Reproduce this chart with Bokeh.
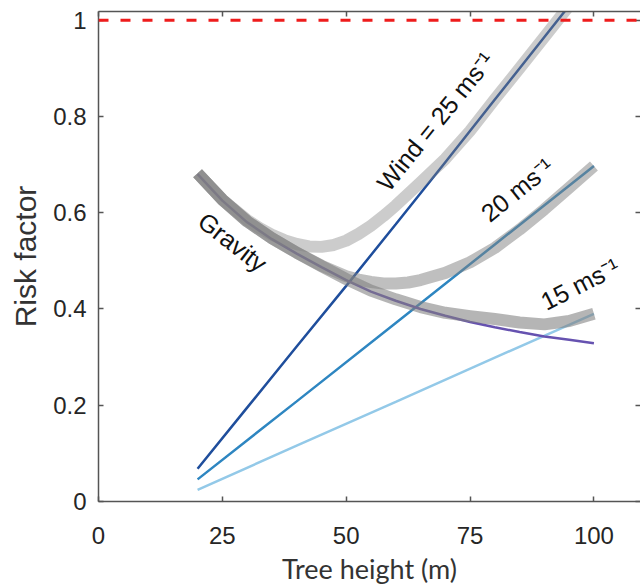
import math
from bokeh.plotting import figure
from bokeh.models import Range1d, LinearAxis, FixedTicker, Span, ColumnDataSource
from bokeh.core.properties import value
from bokeh.embed import file_html
from bokeh.resources import INLINE

# ---- data ----
heights = [20, 25, 30, 35, 40, 45, 50, 55, 60, 65, 70, 75, 80, 85, 90, 95, 100]
gravity = [0.68, 0.625, 0.58, 0.545, 0.515, 0.487, 0.46, 0.436, 0.417, 0.40, 0.386, 0.373,
           0.362, 0.352, 0.343, 0.336, 0.329]

wind25_x = [20, 30, 40, 50, 60, 70, 80, 90, 100]
wind25 = [0.068, 0.195, 0.322, 0.448, 0.576, 0.705, 0.835, 0.965, 1.095]
wind20_x = [20, 40, 60, 80, 100]
wind20 = [0.046, 0.208, 0.371, 0.534, 0.697]
wind15_x = [20, 40, 60, 80, 100]
wind15 = [0.024, 0.116, 0.207, 0.299, 0.39]

comb15 = [0.682, 0.627, 0.582, 0.547, 0.517, 0.489, 0.462, 0.438, 0.42, 0.404, 0.392, 0.385,
          0.379, 0.372, 0.368, 0.375, 0.39]
comb20_x = [20, 25, 30, 35, 40, 45, 50, 52.5, 55, 57.5, 60, 62.5, 65, 70, 75, 80, 85, 90, 95, 100]
comb20 = [0.682, 0.627, 0.582, 0.547, 0.517, 0.49, 0.468, 0.461, 0.456, 0.453, 0.453, 0.455,
          0.46, 0.475, 0.497, 0.527, 0.565, 0.607, 0.652, 0.697]
comb25_x = [20, 25, 30, 32.5, 35, 37.5, 40, 42.5, 45, 47.5, 50, 52.5, 55, 57.5, 60, 65, 70,
            75, 80, 85, 90, 95, 98]
comb25 = [0.682, 0.627, 0.585, 0.568, 0.554, 0.543, 0.535, 0.53, 0.529, 0.533, 0.542, 0.556,
          0.573, 0.593, 0.615, 0.663, 0.712, 0.77, 0.836, 0.9, 0.965, 1.03, 1.07]

threshold = 1.0
x_ticks = [0, 25, 50, 75, 100]
y_ticks = [0, 0.2, 0.4, 0.6, 0.8, 1]
y_tick_labels = ["0", "0.2", "0.4", "0.6", "0.8", "1"]

labels = ["Wind = 25 ms\u207b\u00b9", "20 ms\u207b\u00b9", "15 ms\u207b\u00b9", "Gravity"]
label_x = [68.0, 84.5, 97.2, 27.1]
label_y = [0.79, 0.648, 0.452, 0.539]
label_angle_deg = [51, 39, 27, -38]

# ---- figure ----
p = figure(width=640, height=587, x_range=Range1d(0, 109.4), y_range=Range1d(0, 1.018),
           output_backend="svg", toolbar_location=None,
           min_border_left=98, min_border_right=0, min_border_top=11, min_border_bottom=85)
p.grid.visible = False
p.outline_line_color = None
p.background_fill_color = "white"
p.border_fill_color = "white"

axis_color = "#555555"
tick_font = "Liberation Sans"

# thin lines first
p.line(wind25_x, wind25, line_color="#1f4e9c", line_width=2.5)
p.line(wind20_x, wind20, line_color="#2e86c1", line_width=2.5)
p.line(wind15_x, wind15, line_color="#93c9e8", line_width=2.5)
p.line(heights, gravity, line_color="#6652b0", line_width=2.5)

# translucent combined-risk bands on top
p.line(comb25_x, comb25, line_color="#808080", line_alpha=0.4, line_width=12,
       line_join="round")
p.line(comb20_x, comb20, line_color="#808080", line_alpha=0.5, line_width=12,
       line_join="round")
p.line(heights, comb15, line_color="#808080", line_alpha=0.58, line_width=12,
       line_join="round")

# threshold
p.add_layout(Span(location=threshold, dimension="width", line_color="#ee1c1c",
                  line_width=3, line_dash="10 12"))

# labels
src = ColumnDataSource(dict(x=label_x, y=label_y, t=labels,
                            a=[math.radians(d) for d in label_angle_deg]))
p.text(x="x", y="y", text="t", angle="a", source=src, text_align="center",
       text_baseline="middle", text_font=value(tick_font), text_font_size="25px",
       text_color="#111111")

# axes
p.xaxis.ticker = FixedTicker(ticks=x_ticks)
p.yaxis.ticker = FixedTicker(ticks=y_ticks)
p.yaxis.major_label_overrides = {t: l for t, l in zip(y_ticks, y_tick_labels)}
for ax in (p.xaxis[0], p.yaxis[0]):
    ax.axis_line_color = axis_color
    ax.axis_line_width = 1.5
    ax.major_tick_line_color = axis_color
    ax.major_tick_line_width = 1.5
    ax.major_tick_in = 5
    ax.major_tick_out = 0
    ax.minor_tick_line_color = None
    ax.major_label_text_font = tick_font
    ax.major_label_text_font_size = "24px"
    ax.major_label_text_color = "#262626"
    ax.axis_label_text_font_style = "normal"
    ax.axis_label_text_color = "#333333"

p.xaxis.axis_label = "Tree height (m)"
p.xaxis.axis_label_text_font = "Lato"
p.xaxis.axis_label_text_font_size = "27px"
p.xaxis.major_label_standoff = 25
p.xaxis.axis_label_standoff = 5

p.yaxis.axis_label = "Risk factor"
p.yaxis.axis_label_text_font = tick_font
p.yaxis.axis_label_text_font_size = "30px"
p.yaxis.major_label_standoff = 12
p.yaxis.axis_label_standoff = 8

top = LinearAxis(ticker=FixedTicker(ticks=x_ticks), major_label_text_font_size="1px",
                 major_label_text_color=None,
                 major_tick_in=5, major_tick_out=0, minor_tick_line_color=None,
                 axis_line_color=axis_color, axis_line_width=1.5,
                 major_tick_line_color=axis_color, major_tick_line_width=1.5,
                 major_label_standoff=0)
p.add_layout(top, "above")
right = LinearAxis(ticker=FixedTicker(ticks=y_ticks), major_label_text_font_size="1px",
                   major_label_text_color=None,
                   major_tick_in=5, major_tick_out=0, minor_tick_line_color=None,
                   axis_line_color=None, major_tick_line_color=axis_color,
                   major_tick_line_width=1.5, major_label_standoff=0)
p.add_layout(right, "right")

open("out.html", "w").write(file_html(p, INLINE))
